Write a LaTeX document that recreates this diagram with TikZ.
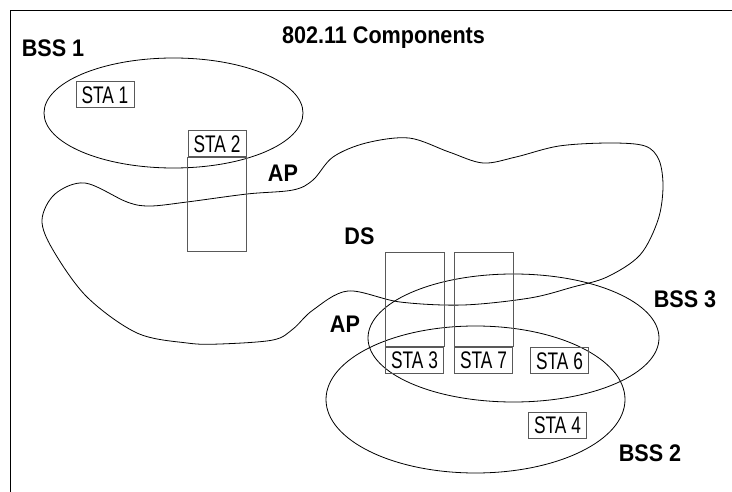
\documentclass[tikz,border=0pt]{standalone}
\usepackage{fontspec}
\newfontfamily\stafont{Liberation Sans}[FakeStretch=0.72]
\newfontfamily\hdfont{Liberation Sans}[FakeStretch=0.9]
\begin{document}
\begin{tikzpicture}[x=1pt,y=-1pt,
  outline/.style={black,line width=0.8pt},
  frame/.style={black,line width=1pt},
  sta/.style={draw=black!65,line width=1pt,minimum width=58pt,minimum height=26pt,
    inner sep=0pt,text height=17pt,text depth=0pt,font=\stafont\fontsize{24}{28}\selectfont},
  stackbox/.style={draw=black!65,line width=1pt},
  lbl/.style={anchor=base,inner sep=0pt,font=\hdfont\bfseries\fontsize{24}{28}\selectfont}]
\useasboundingbox (0,0) rectangle (732,492);
% frame
\coordinate (ftl) at (10,11);
\coordinate (ftr) at (732,11);
\coordinate (fbl) at (10,492);
\draw[frame] (ftr) -- (ftl) -- (fbl);
% distribution system blob
\draw[outline] plot[smooth cycle,tension=0.55] coordinates {
  (42,220) (55,194) (85,183) (127,202) (150,206) (187,202) (247,194) (293,190)
  (313,180) (333,157) (366,143) (409,138) (449,152) (483,163) (516,157) (559,146)
  (610,143) (645,146) (659,160) (663,187) (658,220) (640,255) (607,277) (573,287)
  (530,298) (463,305) (400,302) (348,291) (313,310) (293,329) (273,340) (220,344)
  (187,343) (137,333) (87,297) (53,250)};
% BSS ellipses
\draw[outline] (173.5,113) ellipse [x radius=129.5, y radius=55];
\draw[outline] (513.5,338) ellipse [x radius=145.5, y radius=64];
\draw[outline] (475.5,399.5) ellipse [x radius=149.5, y radius=73.5];
% stations
\node[sta] (sta1) at (105,95) {STA 1};
\node[sta] (sta2) at (217,144) {STA 2};
\node[sta] (sta3) at (414.5,360) {STA 3};
\node[sta] (sta7) at (483.5,360) {STA 7};
\node[sta] (sta6) at (559.5,360.5) {STA 6};
\node[sta] (sta4) at (557.5,425) {STA 4};
% access point stacks
\draw[stackbox] (sta2.south west) rectangle ([yshift=-94pt]sta2.south east);
\draw[stackbox] (sta3.north west) rectangle ([yshift=94pt]sta3.north east);
\draw[stackbox] (sta7.north west) rectangle ([yshift=94pt]sta7.north east);
% labels
\node[lbl] (title) at (383.5,44) {802.11 Components};
\node[lbl] (bss1) at (53,57) {BSS 1};
\node[lbl] (ap1) at (283,182) {AP};
\node[lbl] (ds) at (359.5,245) {DS};
\node[lbl] (ap2) at (345,333) {AP};
\node[lbl] (bss3) at (685,308) {BSS 3};
\node[lbl] (bss2) at (650,461) {BSS 2};
\end{tikzpicture}
\end{document}
